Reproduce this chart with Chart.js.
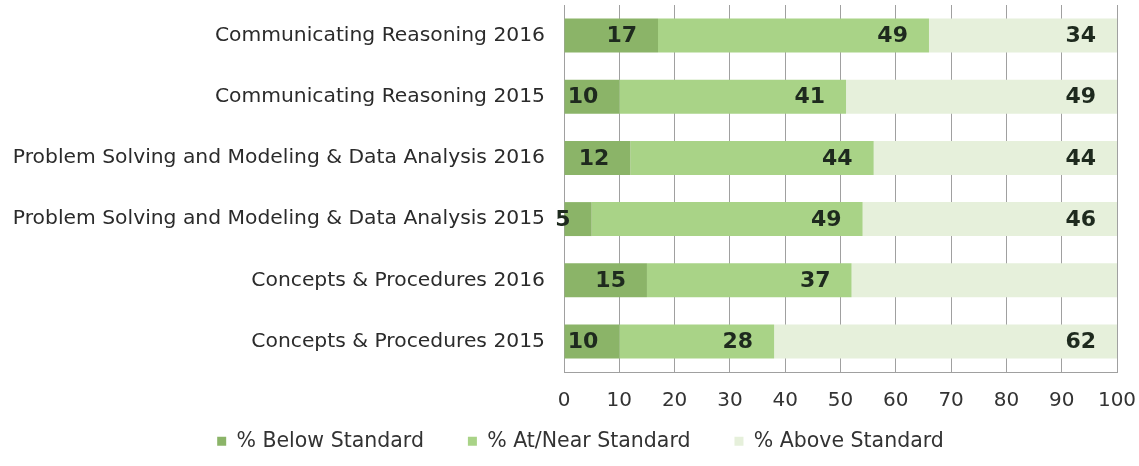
<!DOCTYPE html>
<html>
<head>
<meta charset="utf-8">
<script src="https://cdn.jsdelivr.net/npm/chart.js@4.4.0/dist/chart.umd.min.js"></script>
<style>
  html, body { margin: 0; padding: 0; background: #fff; overflow: hidden; }
  canvas { display: block; }
</style>
</head>
<body>
<canvas id="chart" width="1139" height="466"></canvas>
<script>
// categories (top to bottom)
const categories = [
  "Communicating Reasoning 2016",
  "Communicating Reasoning 2015",
  "Problem Solving and Modeling & Data Analysis 2016",
  "Problem Solving and Modeling & Data Analysis 2015",
  "Concepts & Procedures 2016",
  "Concepts & Procedures 2015"
];
const seriesNames = ["% Below Standard", "% At/Near Standard", "% Above Standard"];
const belowStd = [17, 10, 12, 5, 15, 10];
const nearStd = [49, 41, 44, 49, 37, 28];
const aboveStd = [34, 49, 44, 46, 48, 62];
// the reference prints no value on the "Above" bar of Concepts & Procedures 2016
const aboveShown = [true, true, true, true, false, true];

const colors = ["#8bb468", "#a9d387", "#e6f0db"];
const FONT = "'DejaVu Sans', sans-serif";
// pull the legend up (its wide item padding also pads it vertically) and a bit to the right
const LEGEND_SHIFT = -29;
const LEGEND_DX = 44;

// value labels, right aligned inside the end of each segment
const valueLabels = {
  id: "valueLabels",
  afterLayout(c) {
    c.legend.top += LEGEND_SHIFT;
    c.legend.height = c.legend.bottom - c.legend.top;
    c.legend.left += LEGEND_DX;
    c.legend.width = c.legend.right - c.legend.left;
  },
  afterDatasetsDraw(c) {
    const ctx = c.ctx;
    ctx.save();
    ctx.font = "bold 22px " + FONT;
    ctx.fillStyle = "#1e2a1e";
    ctx.textAlign = "right";
    ctx.textBaseline = "middle";
    c.data.datasets.forEach((ds, i) => {
      const meta = c.getDatasetMeta(i);
      meta.data.forEach((bar, j) => {
        if (ds.shown && !ds.shown[j]) return;
        ctx.fillText(ds.data[j], bar.x - 21, bar.y + 1);
      });
    });
    ctx.restore();
  }
};

chart = new Chart(document.getElementById("chart"), {
  type: "bar",
  data: {
    labels: categories,
    datasets: [
      { label: seriesNames[0], data: belowStd, backgroundColor: colors[0] },
      { label: seriesNames[1], data: nearStd, backgroundColor: colors[1] },
      { label: seriesNames[2], data: aboveStd, backgroundColor: colors[2], shown: aboveShown }
    ]
  },
  options: {
    indexAxis: "y",
    responsive: false,
    animation: false,
    datasets: { bar: { barPercentage: 0.555, categoryPercentage: 1.0 } },
    layout: { padding: { top: 5, right: 22, left: 0, bottom: 0 } },
    plugins: {
      legend: {
        position: "bottom",
        maxHeight: 50,
        labels: {
          font: { family: FONT, size: 20.5 },
          color: "#333",
          boxWidth: 9,
          boxHeight: 9,
          padding: 44
        }
      },
      tooltip: { enabled: false }
    },
    scales: {
      x: {
        stacked: true,
        min: 0,
        max: 100,
        ticks: { stepSize: 10, font: { family: FONT, size: 20 }, color: "#333", padding: 17 },
        grid: { color: "#a0a0a0", drawTicks: false },
        border: { color: "#a0a0a0" },
        afterFit: s => { s.height = 44; s.paddingLeft = 0; s.paddingRight = 0; }
      },
      y: {
        stacked: true,
        ticks: { font: { family: FONT, size: 20.3 }, color: "#2b2b2b", padding: 19 },
        grid: { display: false, drawTicks: false },
        border: { color: "#a0a0a0" },
        afterFit: s => { s.width = 564; s.paddingTop = 0; s.paddingBottom = 0; }
      }
    }
  },
  plugins: [valueLabels]
});
</script>
</body>
</html>
